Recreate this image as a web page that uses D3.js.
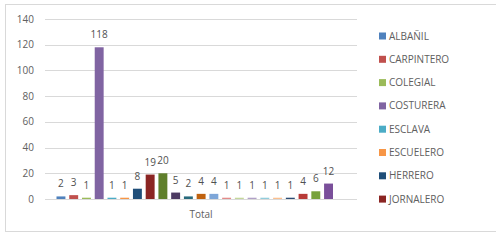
<!DOCTYPE html>
<html>
<head>
<meta charset="utf-8">
<script src="https://cdn.jsdelivr.net/npm/d3@7"></script>
<style>
  body { margin: 0; background: #ffffff; }
  svg { display: block; font-family: "Open Sans", "DejaVu Sans", sans-serif; }
</style>
</head>
<body>
<svg id="chart" width="496" height="244"></svg>
<script>
// ==============================
// DATA
// ==============================

const series = [
  "ALBAÑIL", "CARPINTERO", "COLEGIAL", "COSTURERA", "ESCLAVA", "ESCUELERO",
  "HERRERO", "JORNALERO", "S9", "S10", "S11", "S12", "S13", "S14", "S15",
  "S16", "S17", "S18", "S19", "S20", "S21", "S22"
];
const values = [2, 3, 1, 118, 1, 1, 8, 19, 20, 5, 2, 4, 4, 1, 1, 1, 1, 1, 1, 4, 6, 12];
const legendNames = series.slice(0, 8);
const yTicks = [0, 20, 40, 60, 80, 100, 120, 140];
const groupLabel = "Total";

// Office palette, repeated darker / lighter
const colors = [
  "#4f81bd", "#c0504d", "#9bbb59", "#8064a2", "#4bacc6", "#f79646",
  "#1f4e79", "#8b2523", "#5f7f2b", "#4d3b62", "#276a7c", "#c0620f",
  "#7ea6d8", "#e38b89", "#c4d79b", "#b1a0c7", "#92cddc", "#fabf8f",
  "#2c4d75", "#b83b38", "#77a13c", "#7a4f9a"
];

// ==============================
// LAYOUT
// ==============================

const svg = d3.select("#chart");

const gridLeft = 45;
const gridRight = 357;
const barLeft = 56.5;
const barRight = 333;

const y = d3.scaleLinear().domain([0, 140]).range([199, 19]);

const x = d3.scaleBand()
  .domain(series)
  .range([barLeft, barRight])
  .paddingInner(0.3)
  .paddingOuter(0);

// Chart frame
svg.append("rect")
  .attr("x", 5.5)
  .attr("y", 4.5)
  .attr("width", 500)
  .attr("height", 227)
  .attr("fill", "#ffffff")
  .attr("stroke", "#d9d9d9")
  .attr("stroke-width", 1);

// Gridlines
svg.append("g")
  .selectAll("line")
  .data(yTicks)
  .enter()
  .append("line")
  .attr("x1", gridLeft)
  .attr("x2", gridRight)
  .attr("y1", d => Math.round(y(d)) + 0.5)
  .attr("y2", d => Math.round(y(d)) + 0.5)
  .attr("stroke", "#d9d9d9")
  .attr("stroke-width", 1);

// Y axis labels
svg.append("g")
  .selectAll("text")
  .data(yTicks)
  .enter()
  .append("text")
  .attr("x", 34)
  .attr("y", d => y(d) + 3.5)
  .attr("text-anchor", "end")
  .attr("font-size", "10px")
  .attr("fill", "#606060")
  .text(d => d);

// Bars
svg.append("g")
  .selectAll("rect")
  .data(values)
  .enter()
  .append("rect")
  .attr("x", (d, i) => x(series[i]))
  .attr("y", d => y(d))
  .attr("width", x.bandwidth())
  .attr("height", d => y(0) - y(d))
  .attr("fill", (d, i) => colors[i]);

// Value labels
svg.append("g")
  .selectAll("text")
  .data(values)
  .enter()
  .append("text")
  .attr("x", (d, i) => x(series[i]) + x.bandwidth() / 2)
  .attr("y", d => y(d) - 9)
  .attr("text-anchor", "middle")
  .attr("font-size", "10px")
  .attr("fill", "#505050")
  .text(d => d);

// Category label
svg.append("text")
  .attr("x", 201)
  .attr("y", 218)
  .attr("text-anchor", "middle")
  .attr("font-size", "10px")
  .attr("fill", "#606060")
  .text(groupLabel);

// Legend
const legend = svg.append("g")
  .selectAll("g")
  .data(legendNames)
  .enter()
  .append("g")
  .attr("transform", (d, i) => `translate(379, ${36 + i * 23.3})`);

legend.append("rect")
  .attr("x", 0)
  .attr("y", -3.5)
  .attr("width", 7)
  .attr("height", 7)
  .attr("fill", (d, i) => colors[i]);

legend.append("text")
  .attr("x", 10)
  .attr("y", 3.5)
  .attr("font-size", "10px")
  .attr("fill", "#606060")
  .text(d => d);
</script>
</body>
</html>
